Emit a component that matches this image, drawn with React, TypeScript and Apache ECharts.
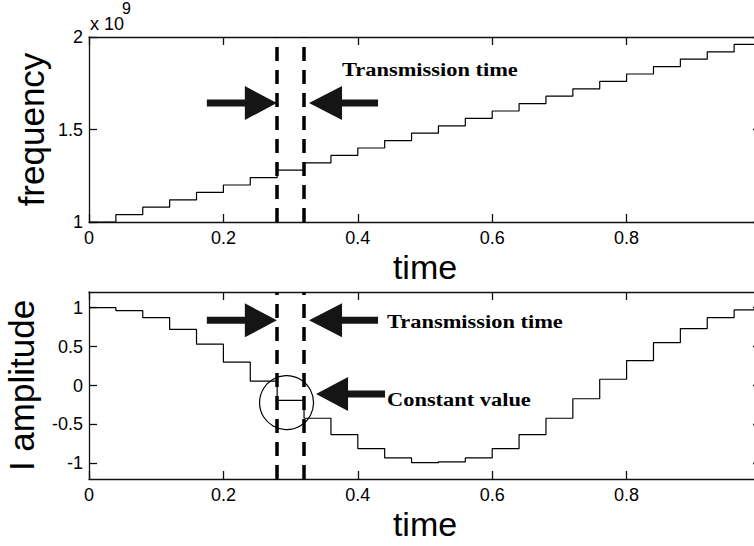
import React, { useEffect, useRef } from "react";
import * as echarts from "echarts";

// ---- data ----
const stepTimes = [
  0, 0.04, 0.08, 0.12, 0.16, 0.2, 0.24, 0.28, 0.32, 0.36, 0.4, 0.44, 0.48,
  0.52, 0.56, 0.6, 0.64, 0.68, 0.72, 0.76, 0.8, 0.84, 0.88, 0.92, 0.96,
];
const endTime = 1.0;
// frequency levels in units of 10^9
const frequencyLevels = [
  1.0, 1.04, 1.08, 1.12, 1.16, 1.2, 1.24, 1.28, 1.32, 1.36, 1.4, 1.44, 1.48,
  1.52, 1.56, 1.6, 1.64, 1.68, 1.72, 1.76, 1.8, 1.84, 1.88, 1.92, 1.96,
];
const amplitudeLevels = [
  1.0, 0.96, 0.87, 0.72, 0.53, 0.3, 0.055, -0.19, -0.42, -0.63, -0.81, -0.93,
  -0.99, -0.98, -0.93, -0.81, -0.63, -0.42, -0.17, 0.08, 0.32, 0.55, 0.73,
  0.87, 0.97,
];
const ampTickValues = [-1, -0.5, 0, 0.5, 1];
const transmissionWindow = [0.284, 0.32];
const annotationTexts = ["Transmission time", "Constant value"];
const exponentText = ["x 10", "9"];
const axisNames = { x: "time", yTop: "frequency", yBottom: "I amplitude" };

const buildSteps = (levels: number[]) => {
  const pts = stepTimes.map((t, i) => [t, levels[i]]);
  pts.push([endTime, levels[levels.length - 1]]);
  return pts;
};

const SANS = "Liberation Sans";
const SERIF = "Liberation Serif";
const AXIS_COLOR = "#111";

const axisLineStyle = { color: AXIS_COLOR, width: 1.3 };

function xAxisPair(gridIndex: number) {
  return [
    {
      type: "value",
      gridIndex,
      min: 0,
      max: 1,
      interval: 0.2,
      position: "bottom",
      axisLine: { show: true, onZero: false, lineStyle: axisLineStyle },
      axisTick: { show: true, inside: true, length: 8, lineStyle: axisLineStyle },
      axisLabel: { show: true, fontSize: 18, fontFamily: SANS, color: "#000", margin: 7 },
      splitLine: { show: false },
      name: axisNames.x,
      nameLocation: "middle",
      nameGap: 28,
      nameMoveOverlap: false,
      nameTextStyle: { fontSize: 34, fontFamily: SANS, color: "#000" },
    },
    {
      type: "value",
      gridIndex,
      min: 0,
      max: 1,
      interval: 0.2,
      position: "top",
      axisLine: { show: true, onZero: false, lineStyle: axisLineStyle },
      axisTick: { show: true, inside: true, length: 8, lineStyle: axisLineStyle },
      axisLabel: { show: false },
      splitLine: { show: false },
    },
  ];
}

export default function App() {
  const ref = useRef<HTMLDivElement>(null);

  useEffect(() => {
    if (!ref.current) return;
    const chart = echarts.init(ref.current, undefined, { renderer: "svg" });

    const markLine = {
      silent: true,
      symbol: ["none", "none"],
      label: { show: false },
      lineStyle: { type: [14, 9], width: 3.5, color: "#000" },
      data: transmissionWindow.map((t) => ({ xAxis: t })),
    };

    const option: any = {
      animation: false,
      backgroundColor: "#fff",
      grid: [
        { left: 89, top: 37, width: 672, height: 185, outerBoundsMode: "none", containLabel: false },
        { left: 89, top: 292, width: 672, height: 187, outerBoundsMode: "none", containLabel: false },
      ],
      xAxis: [...xAxisPair(0), ...xAxisPair(1)],
      yAxis: [
        {
          type: "value",
          gridIndex: 0,
          min: 1,
          max: 2,
          interval: 0.5,
          position: "left",
          axisLine: { show: true, onZero: false, lineStyle: axisLineStyle },
          axisTick: { show: true, inside: true, length: 8, lineStyle: axisLineStyle },
          axisLabel: { fontSize: 18, fontFamily: SANS, color: "#000", margin: 6 },
          splitLine: { show: false },
          name: axisNames.yTop,
          nameLocation: "middle",
          nameGap: 40,
          nameMoveOverlap: false,
          nameTextStyle: { fontSize: 35, fontFamily: SANS, color: "#000" },
        },
        {
          type: "value",
          gridIndex: 0,
          min: 1,
          max: 2,
          interval: 0.5,
          position: "right",
          axisLine: { show: true, onZero: false, lineStyle: axisLineStyle },
          axisTick: { show: true, inside: true, length: 8, lineStyle: axisLineStyle },
          axisLabel: { show: false },
          splitLine: { show: false },
        },
        {
          type: "value",
          gridIndex: 1,
          min: -1.2,
          max: 1.2,
          position: "left",
          axisLine: { show: true, onZero: false, lineStyle: axisLineStyle },
          axisTick: {
            show: true,
            inside: true,
            length: 8,
            lineStyle: axisLineStyle,
            customValues: ampTickValues,
          },
          axisLabel: {
            fontSize: 18,
            fontFamily: SANS,
            color: "#000",
            margin: 6,
            customValues: ampTickValues,
          },
          splitLine: { show: false },
          name: axisNames.yBottom,
          nameLocation: "middle",
          nameGap: 50,
          nameMoveOverlap: false,
          nameTextStyle: { fontSize: 35, fontFamily: SANS, color: "#000" },
        },
        {
          type: "value",
          gridIndex: 1,
          min: -1.2,
          max: 1.2,
          position: "right",
          axisLine: { show: true, onZero: false, lineStyle: axisLineStyle },
          axisTick: {
            show: true,
            inside: true,
            length: 8,
            lineStyle: axisLineStyle,
            customValues: ampTickValues,
          },
          axisLabel: { show: false },
          splitLine: { show: false },
        },
      ],
      series: [
        {
          type: "line",
          xAxisIndex: 0,
          yAxisIndex: 0,
          step: "end",
          symbol: "none",
          data: buildSteps(frequencyLevels),
          lineStyle: { color: "#000", width: 1.2 },
          markLine,
        },
        {
          type: "line",
          xAxisIndex: 2,
          yAxisIndex: 2,
          step: "end",
          symbol: "none",
          data: buildSteps(amplitudeLevels),
          lineStyle: { color: "#000", width: 1.2 },
          markLine,
        },
      ],
    };
    chart.setOption(option);

    const p = (g: number, t: number, v: number) =>
      chart.convertToPixel({ gridIndex: g } as any, [t, v]) as number[];

    const rightArrow = (tip: number, y: number, tail = 70, head = 32, hh = 17, sh = 3.5) => ({
      type: "polygon",
      shape: {
        points: [
          [tip - tail, y - sh],
          [tip - head, y - sh],
          [tip - head, y - hh],
          [tip, y],
          [tip - head, y + hh],
          [tip - head, y + sh],
          [tip - tail, y + sh],
        ],
      },
      style: { fill: "#151515" },
      silent: true,
    });
    const leftArrow = (tip: number, y: number, tail = 69, head = 33, hh = 17, sh = 3.5) => ({
      type: "polygon",
      shape: {
        points: [
          [tip + tail, y - sh],
          [tip + head, y - sh],
          [tip + head, y - hh],
          [tip, y],
          [tip + head, y + hh],
          [tip + head, y + sh],
          [tip + tail, y + sh],
        ],
      },
      style: { fill: "#151515" },
      silent: true,
    });
    const label = (text: string, x: number, y: number) => ({
      type: "text",
      x,
      y,
      scaleX: 1.18,
      silent: true,
      style: {
        text,
        fontFamily: SERIF,
        fontWeight: "bold",
        fontSize: 19,
        fill: "#000",
        align: "left",
        verticalAlign: "middle",
      },
    });

    const xL = p(0, transmissionWindow[0], 1)[0];
    const xR = p(0, transmissionWindow[1], 1)[0];
    const yTopArrow = p(0, 0, 1.643)[1];
    const yTopText = p(0, 0, 1.827)[1];
    const yBotArrow = p(1, 0, 0.836)[1];
    const yConst = p(1, 0, -0.108)[1];
    const circleC = p(1, 0.294, -0.22);
    const origin = p(0, 0, 2);

    chart.setOption({
      graphic: [
        rightArrow(xL - 3, yTopArrow),
        leftArrow(xR + 5, yTopArrow),
        label(annotationTexts[0], xR + 38, yTopText),
        rightArrow(xL - 3, yBotArrow),
        leftArrow(xR + 5, yBotArrow),
        label(annotationTexts[0], xR + 83, yBotArrow + 1),
        leftArrow(xR + 12, yConst, 69, 32, 17, 3.5),
        label(annotationTexts[1], xR + 83, yConst + 5),
        {
          type: "circle",
          silent: true,
          shape: { cx: circleC[0], cy: circleC[1], r: 27 },
          style: { fill: "none", stroke: "#000", lineWidth: 1.2 },
        },
        {
          type: "text",
          x: origin[0] + 1,
          y: origin[1] - 13,
          silent: true,
          style: {
            text: exponentText[0],
            fontFamily: SANS,
            fontSize: 18,
            fill: "#000",
            align: "left",
            verticalAlign: "middle",
          },
        },
        {
          type: "text",
          x: origin[0] + 33,
          y: origin[1] - 29,
          silent: true,
          style: {
            text: exponentText[1],
            fontFamily: SANS,
            fontSize: 16,
            fill: "#000",
            align: "left",
            verticalAlign: "middle",
          },
        },
      ],
    });

    return () => chart.dispose();
  }, []);

  return (
    <div
      ref={ref}
      style={{ position: "absolute", left: 0, top: 0, width: 754, height: 546 }}
    />
  );
}
